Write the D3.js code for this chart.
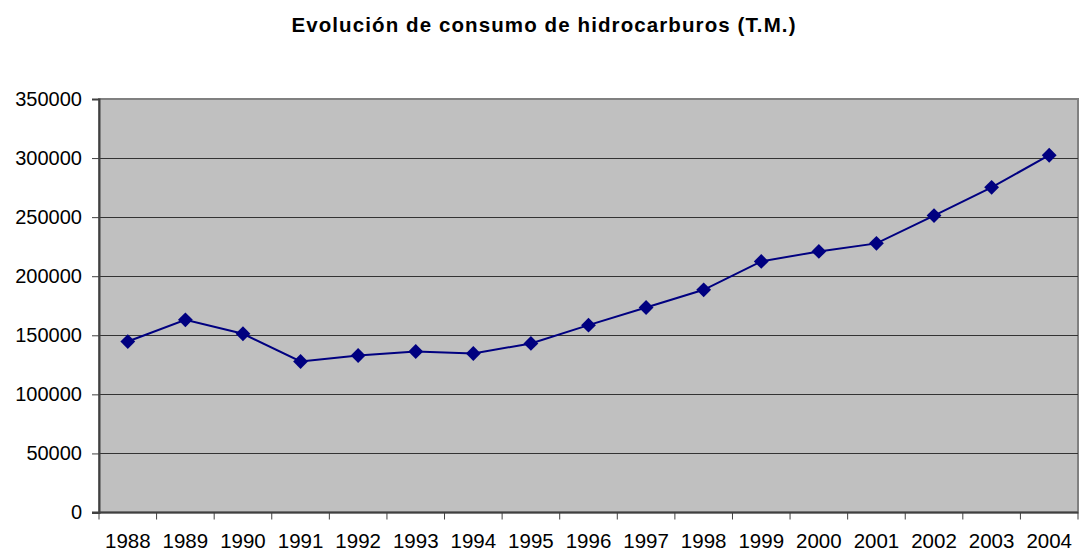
<!DOCTYPE html>
<html>
<head>
<meta charset="utf-8">
<script src="https://cdn.jsdelivr.net/npm/d3@7"></script>
<style>
  body { margin: 0; background: #fff; }
  svg { display: block; font-family: Arial, "Liberation Sans", sans-serif; }
</style>
</head>
<body>
<div class="chart"></div>
<script>
// Data
const years = ["1988", "1989", "1990", "1991", "1992", "1993", "1994", "1995", "1996",
    "1997", "1998", "1999", "2000", "2001", "2002", "2003", "2004"];
const consumo = [144700, 163100, 151300, 127800, 132900, 136300, 134600, 143100, 158600,
    173500, 188500, 212500, 221000, 227800, 251300, 275200, 302400];
const yTicks = [0, 50000, 100000, 150000, 200000, 250000, 300000, 350000];

const width = 1080;
const height = 551;
const plot = { left: 99, right: 1078, top: 99, bottom: 512.5 };

const svg = d3.select(".chart")
    .append("svg")
    .attr("width", width)
    .attr("height", height);

const x = d3.scaleBand()
    .domain(years)
    .range([plot.left, plot.right]);

const y = d3.scaleLinear()
    .domain([0, 350000])
    .range([plot.bottom, plot.top]);

// plot background
svg.append("rect")
    .attr("x", plot.left)
    .attr("y", plot.top)
    .attr("width", plot.right - plot.left)
    .attr("height", plot.bottom - plot.top)
    .attr("fill", "#c0c0c0")
    .attr("stroke", "#808080")
    .attr("stroke-width", 2);

// gridlines
svg.append("g")
    .selectAll("line")
    .data(yTicks.filter(d => d > 0 && d < 350000))
    .join("line")
    .attr("x1", plot.left)
    .attr("x2", plot.right)
    .attr("y1", d => Math.round(y(d)) + 0.5)
    .attr("y2", d => Math.round(y(d)) + 0.5)
    .attr("stroke", "#333")
    .attr("stroke-width", 1);

// y axis
const yAxis = svg.append("g")
    .attr("transform", `translate(${plot.left},0)`)
    .call(d3.axisLeft(y).tickValues(yTicks).tickSize(7).tickPadding(10).tickFormat(d3.format("d")));
yAxis.select(".domain").attr("stroke", "#404040").attr("stroke-width", 2);
yAxis.selectAll(".tick line").attr("stroke", "#404040");
yAxis.selectAll("text").attr("font-size", 20).attr("fill", "#000")
    .style("font-family", "Arial, 'Liberation Sans', sans-serif");

// x axis: ticks at category boundaries, labels at centres
const xAxis = svg.append("g")
    .attr("transform", `translate(0,${plot.bottom})`);
xAxis.append("line")
    .attr("x1", plot.left - 7)
    .attr("x2", plot.right)
    .attr("stroke", "#404040")
    .attr("stroke-width", 2);
const edges = years.map(d => x(d)).concat([x(years[years.length - 1]) + x.bandwidth()]);
xAxis.selectAll("line.tk")
    .data(edges)
    .join("line")
    .attr("class", "tk")
    .attr("x1", d => d)
    .attr("x2", d => d)
    .attr("y1", 0)
    .attr("y2", 7)
    .attr("stroke", "#404040");
xAxis.selectAll("text")
    .data(years)
    .join("text")
    .attr("x", d => x(d) + x.bandwidth() / 2)
    .attr("y", 35)
    .attr("text-anchor", "middle")
    .attr("font-size", 20.5)
    .text(d => d);

// series line
const line = d3.line()
    .x((d, i) => x(years[i]) + x.bandwidth() / 2)
    .y(d => y(d));

svg.append("path")
    .datum(consumo)
    .attr("d", line)
    .attr("fill", "none")
    .attr("stroke", "#000080")
    .attr("stroke-width", 2);

// diamond markers
svg.append("g")
    .selectAll("path")
    .data(consumo)
    .join("path")
    .attr("transform", (d, i) => `translate(${x(years[i]) + x.bandwidth() / 2},${y(d)})`)
    .attr("d", d3.symbol(d3.symbolDiamond2, 140))
    .attr("fill", "#000080");

// title
svg.append("text")
    .attr("x", width / 2 + 4)
    .attr("y", 32)
    .attr("text-anchor", "middle")
    .attr("font-size", 20.5)
    .attr("font-weight", "bold")
    .attr("letter-spacing", 1.1)
    .text("Evolución de consumo de hidrocarburos (T.M.)");
</script>
</body>
</html>
